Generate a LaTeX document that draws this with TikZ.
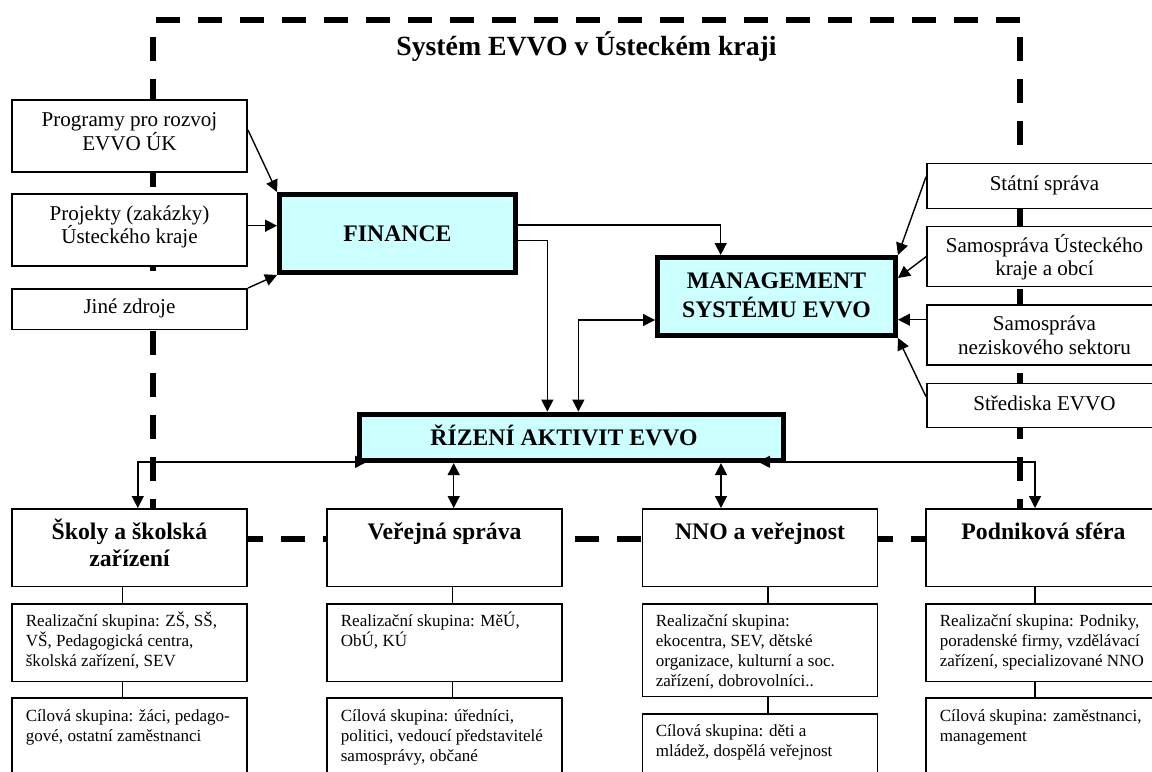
\documentclass[tikz,border=0pt]{standalone}
\usepackage{fontspec}
\setmainfont{Liberation Serif}
\usetikzlibrary{arrows.meta,calc}
\definecolor{boxcyan}{RGB}{204,255,255}
\newcommand\txtN{\fontsize{12}{14}\selectfont}
\newcommand\txtB{\fontsize{13.5}{16}\selectfont\bfseries}
\newcommand\txtS{\fontsize{9.7}{11.5}\selectfont}
\newcommand\txtT{\fontsize{15.8}{19}\selectfont\bfseries}
\begin{document}
\begin{tikzpicture}[x=0.02cm,y=-0.02cm,
  frame/.style={line width=0.11cm, dash pattern=on 0.48cm off 0.36cm},
  thinbox/.style={draw, line width=0.03cm, fill=white, inner sep=0, minimum width=4.71cm},
  thickbox/.style={draw, line width=0.1cm, fill=boxcyan, inner sep=0},
  txt/.style={anchor=base, inner sep=0},
  ntxt/.style={anchor=base, inner sep=0, font=\txtN},
  btxt/.style={anchor=base, inner sep=0, font=\txtB},
  stxt/.style={anchor=base west, inner sep=0, font=\txtS},
  arr/.style={line width=0.028cm, -{Triangle[length=0.24cm,width=0.24cm]}},
  arrb/.style={line width=0.028cm, {Triangle[length=0.24cm,width=0.24cm]}-{Triangle[length=0.24cm,width=0.24cm]}},
  link/.style={line width=0.03cm}]
\useasboundingbox (0,0) rectangle (1152,771);
\fill[white] (0,0) rectangle (1152,771);
\clip (0,0) rectangle (1152,771);

% dashed frame
\draw[frame] (156,20) -- (1020,20);
\draw[frame] (153,37) -- (153,539);
\draw[frame] (1020,37) -- (1020,539);
\draw[frame] (155,539) -- (1020,539);

\node[txt, font=\txtT] (title) at (586.5,55) {Systém EVVO v Ústeckém kraji};

% left source boxes
\node[thinbox, minimum height=1.45cm] (prog) at (129.5,136) {};
\node[thinbox, minimum height=1.45cm] (proj) at (129.5,230) {};
\node[thinbox, minimum height=0.81cm] (jine) at (129.5,309) {};

% central boxes
\node[thickbox, minimum width=4.72cm, minimum height=1.56cm] (fin) at (397.5,233.5) {};
\node[thickbox, minimum width=4.76cm, minimum height=1.56cm] (mgmt) at (776.5,296.5) {};
\node[thickbox, minimum width=8.49cm, minimum height=0.93cm] (riz) at (571.35,437.35) {};

% right boxes
\node[thinbox, minimum height=0.90cm] (statni) at (1044.5,186) {};
\node[thinbox, minimum height=1.20cm] (samou) at (1044.5,256.7) {};
\node[thinbox, minimum height=1.20cm] (samon) at (1044.5,335.2) {};
\node[thinbox, minimum height=0.88cm] (stred) at (1044.5,405.5) {};

% bottom columns
\node[thinbox, minimum height=1.55cm] (skoly) at (129.5,547.5) {};
\node[thinbox, minimum height=1.55cm] (verej) at (444.5,547.5) {};
\node[thinbox, minimum height=1.55cm] (nno) at (760,547.5) {};
\node[thinbox, minimum height=1.55cm] (podn) at (1043.5,547.5) {};
\node[thinbox, minimum height=1.55cm] (skr) at (129.5,642.5) {};
\node[thinbox, minimum height=1.55cm] (verr) at (444.5,642.5) {};
\node[thinbox, minimum height=1.85cm] (nnor) at (760,650) {};
\node[thinbox, minimum height=1.55cm] (podr) at (1043.5,642.5) {};
\node[thinbox, minimum height=2.37cm] (skc) at (129.5,757) {};
\node[thinbox, minimum height=2.37cm] (verc) at (444.5,757) {};
\node[thinbox, minimum height=2.37cm] (nnoc) at (760,773) {};
\node[thinbox, minimum height=2.37cm] (podc) at (1043.5,757) {};

% texts
\node[ntxt] (tp1) at (129.5,126) {Programy pro rozvoj};
\node[ntxt] (tp2) at (129.5,150) {EVVO ÚK};
\node[ntxt] (tj1) at (129.5,220) {Projekty (zakázky)};
\node[ntxt] (tj2) at (129.5,243.5) {Ústeckého kraje};
\node[ntxt] (tz1) at (129.5,313.3) {Jiné zdroje};
\node[btxt] (tf1) at (397.5,241) {FINANCE};
\node[btxt] (tm1) at (776.5,288.3) {MANAGEMENT};
\node[btxt] (tm2) at (776.5,317.3) {SYSTÉMU EVVO};
\node[btxt] (tr1) at (564,445.7) {ŘÍZENÍ AKTIVIT EVVO};
\node[ntxt] (ts1) at (1044.5,190) {Státní správa};
\node[ntxt] (tu1) at (1044.5,252) {Samospráva Ústeckého};
\node[ntxt] (tu2) at (1044.5,275.5) {kraje a obcí};
\node[ntxt] (tn1) at (1044.5,330.5) {Samospráva};
\node[ntxt] (tn2) at (1044.5,354) {neziskového sektoru};
\node[ntxt] (te1) at (1044.5,410.5) {Střediska EVVO};

\node[btxt] (hs1) at (129.5,539.3) {Školy a školská};
\node[btxt] (hs2) at (129.5,566.7) {zařízení};
\node[btxt] (hv1) at (444.5,539.3) {Veřejná správa};
\node[btxt] (hn1) at (760,539.3) {NNO a veřejnost};
\node[btxt] (hp1) at (1043.5,539.3) {Podniková sféra};

\node[stxt] (a1) at (25.5,626.7) {Realizační skupina: ZŠ, SŠ,};
\node[stxt] (a2) at (25.5,646.7) {VŠ, Pedagogická centra,};
\node[stxt] (a3) at (25.5,666.7) {školská zařízení, SEV};
\node[stxt] (a4) at (25.5,721.7) {Cílová skupina: žáci, pedago-};
\node[stxt] (a5) at (25.5,741.7) {gové, ostatní zaměstnanci};

\node[stxt] (b1) at (340.5,626.7) {Realizační skupina: MěÚ,};
\node[stxt] (b2) at (340.5,646.7) {ObÚ, KÚ};
\node[stxt] (b3) at (340.5,721.7) {Cílová skupina: úředníci,};
\node[stxt] (b4) at (340.5,741.7) {politici, vedoucí představitelé};
\node[stxt] (b5) at (340.5,761.7) {samosprávy, občané};

\node[stxt] (c1) at (655.5,626.7) {Realizační skupina:};
\node[stxt] (c2) at (655.5,646.7) {ekocentra, SEV, dětské};
\node[stxt] (c3) at (655.5,666.7) {organizace, kulturní a soc.};
\node[stxt] (c4) at (655.5,686.7) {zařízení, dobrovolníci..};
\node[stxt] (c5) at (655.5,736.7) {Cílová skupina: děti a};
\node[stxt] (c6) at (655.5,756.7) {mládež, dospělá veřejnost};

\node[stxt] (d1) at (939.5,626.7) {Realizační skupina: Podniky,};
\node[stxt] (d2) at (939.5,646.7) {poradenské firmy, vzdělávací};
\node[stxt] (d3) at (939.5,666.7) {zařízení, specializované NNO};
\node[stxt] (d4) at (939.5,721.7) {Cílová skupina: zaměstnanci,};
\node[stxt] (d5) at (939.5,741.7) {management};

% arrows into FINANCE
\draw[arr] ($(prog.east)+(0,-6)$) -- (fin.north west);
\coordinate (pj) at ($(proj.east)+(0,-4.3)$);
\draw[arr] (pj) -- (pj -| fin.west);
\draw[arr] (jine.north east) -- (fin.south west);

% FINANCE outputs
\coordinate (f1) at ($(fin.east)+(0,-8.5)$);
\coordinate (m1) at ($(mgmt.north)+(-55.8,0)$);
\draw[arr] (f1) -| (m1);
\coordinate (f2) at ($(fin.east)+(0,7.2)$);
\coordinate (r1) at ($(riz.north)+(-24,0)$);
\draw[arr] (f2) -| (r1);
\coordinate (r2) at ($(riz.north)+(7,0)$);
\coordinate (m2) at ($(mgmt.west)+(0,23.5)$);
\draw[arrb] (r2) |- (m2);

% right inputs into MANAGEMENT
\draw[arr] ($(statni.west)+(0,-9.3)$) -- (mgmt.north east);
\draw[arr] (samou.west) -- ($(mgmt.east)+(0,-18.5)$);
\coordinate (sn) at ($(samon.west)+(0,-15.5)$);
\draw[arr] (sn) -- (sn -| mgmt.east);
\draw[arr] ($(stred.west)+(0,-8.8)$) -- (mgmt.south east);

% RIZENI to the columns
\coordinate (s1) at ($(skoly.north)+(8.3,0)$);
\coordinate (rz1) at ($(riz.south west)+(10.5,-1.3)$);
\draw[arrb] (rz1) -| (s1);
\coordinate (rz2) at ($(riz.south east)+(-28,-1.3)$);
\coordinate (p1) at ($(podn.north)+(-8.5,0)$);
\draw[arrb] (rz2) -| (p1);
\coordinate (v1) at ($(verej.north)+(9.2,0)$);
\draw[arrb] (v1 |- riz.south) -- (v1);
\coordinate (n1) at ($(nno.north)+(-39,0)$);
\draw[arrb] (n1 |- riz.south) -- (n1);

% column links
\draw[link] ($(skoly.south)+(-7.2,0)$) -- ($(skr.north)+(-7.2,0)$);
\draw[link] ($(skr.south)+(-7.2,0)$) -- ($(skc.north)+(-7.2,0)$);
\draw[link] ($(verej.south)+(8.1,0)$) -- ($(verr.north)+(8.1,0)$);
\draw[link] ($(verr.south)+(8.1,0)$) -- ($(verc.north)+(8.1,0)$);
\draw[link] ($(nno.south)+(8.1,0)$) -- ($(nnor.north)+(8.1,0)$);
\draw[link] ($(nnor.south)+(8.1,0)$) -- ($(nnoc.north)+(8.1,0)$);
\draw[link] ($(podn.south)+(-8.3,0)$) -- ($(podr.north)+(-8.3,0)$);
\draw[link] ($(podr.south)+(-8.3,0)$) -- ($(podc.north)+(-8.3,0)$);
\end{tikzpicture}
\end{document}
